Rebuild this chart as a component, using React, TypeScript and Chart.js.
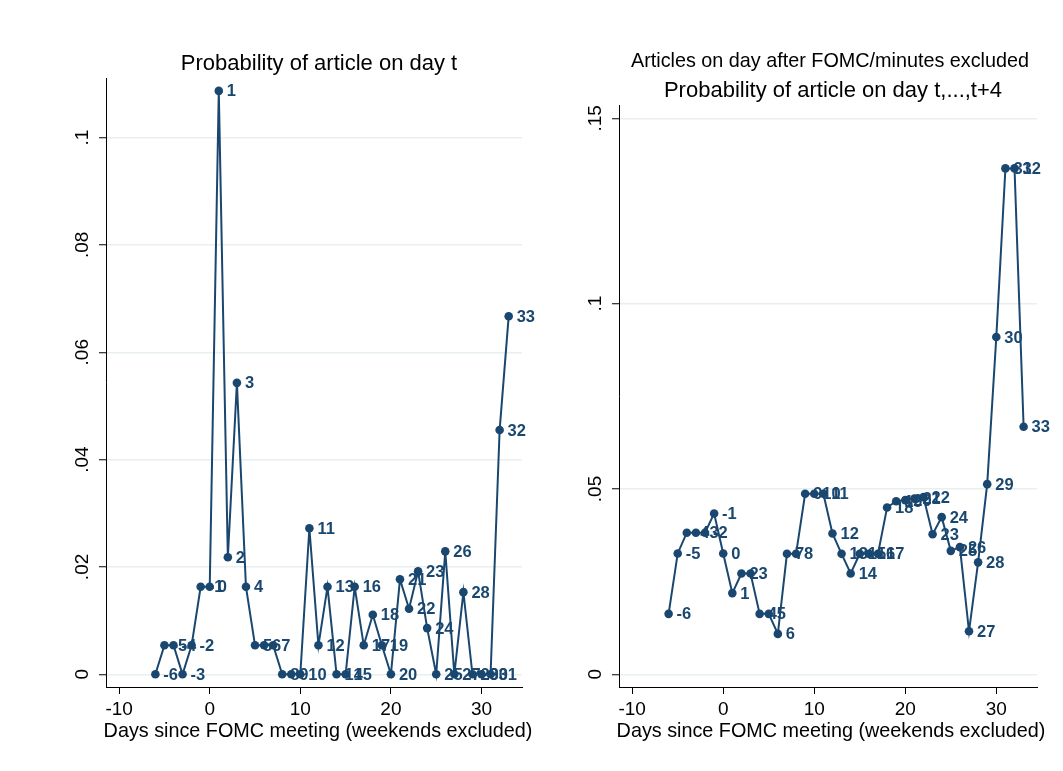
import React, { useEffect, useRef } from "react";
import { Chart, registerables } from "chart.js";

Chart.register(...registerables);

// ---------- data ----------
const days = [
  -6, -5, -4, -3, -2, -1, 0, 1, 2, 3, 4, 5, 6, 7, 8, 9, 10, 11, 12, 13,
  14, 15, 16, 17, 18, 19, 20, 21, 22, 23, 24, 25, 26, 27, 28, 29, 30, 31, 32, 33,
];

// Probability of article on day t
const probDayT = [
  0, 0.0054, 0.0054, 0, 0.0054, 0.0163, 0.0163, 0.1087, 0.0218, 0.0543,
  0.0163, 0.0054, 0.0054, 0.0054, 0, 0, 0, 0.0272, 0.0054, 0.0163,
  0, 0, 0.0163, 0.0054, 0.0111, 0.0054, 0, 0.0177, 0.0122, 0.0192,
  0.0086, 0, 0.0229, 0, 0.0153, 0, 0, 0, 0.0455, 0.0667,
];

// Probability of article on day t,...,t+4 (articles on day after FOMC/minutes excluded)
const probDayT4 = [
  0.0163, 0.0326, 0.0382, 0.0382, 0.0382, 0.0434, 0.0326, 0.0219, 0.0272, 0.0272,
  0.0163, 0.0163, 0.0109, 0.0325, 0.0325, 0.0487, 0.0487, 0.0487, 0.038, 0.0325,
  0.0272, 0.0325, 0.0325, 0.0325, 0.045, 0.0467, 0.047, 0.0474, 0.0478, 0.0378,
  0.0424, 0.0333, 0.0343, 0.0116, 0.0302, 0.0513, 0.091, 0.1365, 0.1365, 0.0668,
];

const xTickValues = [-10, 0, 10, 20, 30];
const yTicksLeft = [0, 0.02, 0.04, 0.06, 0.08, 0.1];
const yTicksRight = [0, 0.05, 0.1, 0.15];

const leftTitle = "Probability of article on day t";
const rightSubtitle = "Articles on day after FOMC/minutes excluded";
const rightTitle = "Probability of article on day t,...,t+4";
const xAxisTitle = "Days since FOMC meeting (weekends excluded)";

// ---------- styles ----------
const NAVY = "#1a476f";
const FONT = "'Liberation Sans', Arial, Helvetica, sans-serif";
const GRID = "#e8eff1";

function fmtTick(v: number): string {
  if (v === 0) return "0";
  return String(+v.toFixed(3)).replace(/^0\./, ".");
}

type TextLine = { text: string; size: number; dx: number; y: number };

function makeTextPlugin(id: string, lines: TextLine[]) {
  return {
    id,
    afterDraw(chart: any) {
      const { ctx, chartArea } = chart;
      const cx = (chartArea.left + chartArea.right) / 2;
      ctx.save();
      ctx.fillStyle = "#000";
      ctx.textAlign = "center";
      ctx.textBaseline = "alphabetic";
      for (const l of lines) {
        ctx.font = `${l.size}px ${FONT}`;
        ctx.fillText(l.text, cx + l.dx, l.y);
      }
      ctx.restore();
    },
  };
}

const pointLabels = {
  id: "pointLabels",
  afterDatasetsDraw(chart: any) {
    const ctx = chart.ctx;
    const meta = chart.getDatasetMeta(0);
    ctx.save();
    ctx.font = `bold 16.5px ${FONT}`;
    ctx.fillStyle = NAVY;
    ctx.textAlign = "left";
    ctx.textBaseline = "middle";
    meta.data.forEach((pt: any, i: number) => {
      ctx.fillText(String(days[i]), pt.x + 8, pt.y + 1);
    });
    ctx.restore();
  },
};

function buildConfig(
  values: number[],
  yTicks: number[],
  yMin: number,
  yMax: number,
  yWidth: number,
  padding: { left: number; right: number; top: number; bottom: number },
  textPlugin: any
): any {
  return {
    type: "line",
    data: {
      datasets: [
        {
          data: days.map((d, i) => ({ x: d, y: values[i] })),
          borderColor: NAVY,
          backgroundColor: NAVY,
          borderWidth: 2,
          tension: 0,
          pointRadius: 4.3,
          pointBorderWidth: 0,
          pointBackgroundColor: NAVY,
          fill: false,
        },
      ],
    },
    options: {
      animation: false,
      responsive: false,
      devicePixelRatio: 1,
      layout: { padding },
      plugins: {
        legend: { display: false },
        title: { display: false },
        tooltip: { enabled: false },
      },
      scales: {
        x: {
          type: "linear",
          min: -11.45,
          max: 34.47,
          afterBuildTicks: (scale: any) => {
            scale.ticks = xTickValues.map((v) => ({ value: v }));
          },
          afterFit: (scale: any) => {
            scale.height = 84;
          },
          grid: {
            drawOnChartArea: false,
            drawTicks: true,
            tickLength: 7,
            tickColor: "#000",
            tickWidth: 1,
            color: "#000",
          },
          border: { display: true, color: "#000", width: 1 },
          ticks: {
            color: "#000",
            font: { family: FONT, size: 19 },
            padding: 4,
            autoSkip: false,
            maxRotation: 0,
            minRotation: 0,
            callback: (v: any) => String(v),
          },
        },
        y: {
          type: "linear",
          min: yMin,
          max: yMax,
          afterBuildTicks: (scale: any) => {
            scale.ticks = yTicks.map((v) => ({ value: v }));
          },
          afterFit: (scale: any) => {
            scale.width = yWidth;
          },
          grid: {
            drawOnChartArea: true,
            drawTicks: true,
            tickLength: 7,
            tickColor: "#000",
            tickWidth: 1,
            color: GRID,
            lineWidth: 1.5,
          },
          border: { display: true, color: "#000", width: 1 },
          ticks: {
            color: "#000",
            font: { family: FONT, size: 19 },
            padding: 3,
            autoSkip: false,
            minRotation: 90,
            maxRotation: 90,
            crossAlign: "center",
            callback: (v: any) => fmtTick(Number(v)),
          },
        },
      },
    },
    plugins: [pointLabels, textPlugin],
  };
}

export default function App() {
  const leftRef = useRef<HTMLCanvasElement | null>(null);
  const rightRef = useRef<HTMLCanvasElement | null>(null);

  useEffect(() => {
    const leftText = makeTextPlugin("leftText", [
      { text: leftTitle, size: 22, dx: 5, y: 70 },
      { text: xAxisTitle, size: 19.8, dx: 4, y: 737 },
    ]);
    const rightText = makeTextPlugin("rightText", [
      { text: rightSubtitle, size: 19.8, dx: 2, y: 67 },
      { text: rightTitle, size: 22, dx: 5, y: 97 },
      { text: xAxisTitle, size: 19.8, dx: 3, y: 737 },
    ]);

    const left = new Chart(
      leftRef.current as HTMLCanvasElement,
      buildConfig(
        probDayT,
        yTicksLeft,
        -0.00237,
        0.1111,
        106,
        { left: 0, right: 48, top: 78, bottom: 0 },
        leftText
      )
    );
    const right = new Chart(
      rightRef.current as HTMLCanvasElement,
      buildConfig(
        probDayT4,
        yTicksRight,
        -0.00343,
        0.1536,
        49,
        { left: 0, right: 26, top: 105, bottom: 0 },
        rightText
      )
    );
    return () => {
      left.destroy();
      right.destroy();
    };
  }, []);

  return (
    <div
      style={{
        position: "absolute",
        left: 0,
        top: 0,
        width: 1063,
        height: 771,
        background: "#fff",
        overflow: "hidden",
      }}
    >
      <canvas
        ref={leftRef}
        width={570}
        height={771}
        style={{ position: "absolute", left: 0, top: 0, width: 570, height: 771, display: "block" }}
      />
      <canvas
        ref={rightRef}
        width={493}
        height={771}
        style={{ position: "absolute", left: 570, top: 0, width: 493, height: 771, display: "block" }}
      />
    </div>
  );
}
